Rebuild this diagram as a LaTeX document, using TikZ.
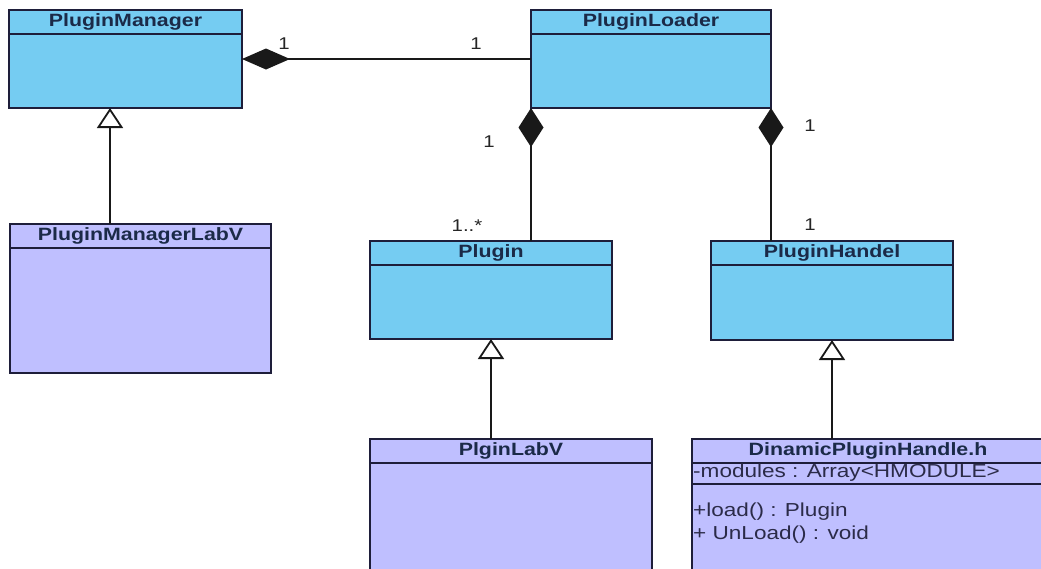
\documentclass[tikz,border=0pt]{standalone}
\usepackage{fontspec}
\setmainfont{Liberation Sans}
\newfontfamily\umlfont[FakeStretch=1.2]{Liberation Sans}
\usetikzlibrary{arrows.meta,calc}

\definecolor{clsblue}{HTML}{75CCF2}
\definecolor{clslav}{HTML}{BFBFFF}
\definecolor{edgeclr}{HTML}{1E1E3A}
\definecolor{hdrtext}{HTML}{1B2A48}
\definecolor{membtext}{HTML}{2B2B48}

\tikzset{
  cls/.style={draw=edgeclr, line width=1.7pt, anchor=north west, inner sep=0pt, outer sep=0pt},
  sepline/.style={draw=edgeclr, line width=1.7pt},
  hdr/.style={font=\umlfont\bfseries\fontsize{17.8}{20}\selectfont, text=hdrtext, inner sep=0pt},
  memb/.style={font=\umlfont\fontsize{18.8}{22}\selectfont, text=membtext, inner sep=0pt, anchor=west},
  mult/.style={font=\umlfont\fontsize{17}{20}\selectfont, text=black!85, inner sep=0pt},
  conn/.style={draw=black!90, line width=1.8pt},
  compH/.style={conn, {Diamond[length=48pt,width=21pt]}-},
  compV/.style={conn, {Diamond[length=39pt,width=25pt]}-},
  gen/.style={conn, -{Triangle[open,length=20pt,width=26pt,fill=white]}}
}

\begin{document}
\begin{tikzpicture}[x=1pt,y=-1pt]
\useasboundingbox (0,0) rectangle (1041,568);
\fill[white] (0,0) rectangle (1041,568);
\begin{scope}
\clip (0,0) rectangle (1041,568);

% ---- class boxes ----
\node[cls, fill=clsblue, minimum width=233, minimum height=98] (mgr) at (9,10) {};
\node[cls, fill=clsblue, minimum width=240, minimum height=98] (ldr) at (531,10) {};
\node[cls, fill=clslav, minimum width=261, minimum height=149] (mgrlab) at (10,224) {};
\node[cls, fill=clsblue, minimum width=242, minimum height=98] (plug) at (370,241) {};
\node[cls, fill=clsblue, minimum width=242, minimum height=99] (hand) at (711,241) {};
\node[cls, fill=clslav, minimum width=282, minimum height=160] (plab) at (370,439) {};
\node[cls, fill=clslav, minimum width=380, minimum height=160] (dyn) at (692,439) {};

% ---- compartment separators ----
\foreach \c in {mgr,ldr,mgrlab,plug,hand,plab,dyn}{
  \draw[sepline] ($(\c.north west)+(0,24)$) -- ($(\c.north east)+(0,24)$);
}
\draw[sepline] ($(dyn.north west)+(0,45)$) -- ($(dyn.north east)+(0,45)$);

% ---- class names ----
\node[hdr] (mgrT) at ($(mgr.north)+(0,12)$) {PluginManager};
\node[hdr] (ldrT) at ($(ldr.north)+(0,12)$) {PluginLoader};
\node[hdr] (mgrlabT) at ($(mgrlab.north)+(0,12)$) {PluginManagerLabV};
\node[hdr] (plugT) at ($(plug.north)+(0,12)$) {Plugin};
\node[hdr] (handT) at ($(hand.north)+(0,12)$) {PluginHandel};
\node[hdr] (plabT) at ($(plab.north)+(0,12)$) {PlginLabV};
\node[hdr] (dynT) at ($(dyn.north west)+(176,12)$) {DinamicPluginHandle.h};

% ---- members ----
\node[memb] (dynA) at ($(dyn.north west)+(1,34)$) {-modules : Array<HMODULE>};
\node[memb] (dynM1) at ($(dyn.north west)+(1,73)$) {+load() : Plugin};
\node[memb] (dynM2) at ($(dyn.north west)+(1,96)$) {+ UnLoad() : void};

% ---- compositions ----
\draw[compH] (mgr.east) -- (ldr.west);
\draw[compV] (ldr.south west) -- (ldr.south west |- plug.north);
\draw[compV] (ldr.south east) -- (ldr.south east |- hand.north);

% ---- generalizations ----
\coordinate (mgrlabIn) at ($(mgrlab.north west)+(100,0)$);
\draw[gen] (mgrlabIn) -- (mgrlabIn |- mgr.south);
\draw[gen] (plug.south |- plab.north) -- (plug.south);
\draw[gen] (hand.south |- dyn.north) -- (hand.south);

% ---- multiplicities ----
\node[mult] (m1) at (284,44) {1};
\node[mult] (m2) at (476,44) {1};
\node[mult] (m3) at (489,142) {1};
\node[mult] (m4) at (467,226) {1..*};
\node[mult] (m5) at (810,126) {1};
\node[mult] (m6) at (810,225) {1};
\end{scope}
\end{tikzpicture}
\end{document}
